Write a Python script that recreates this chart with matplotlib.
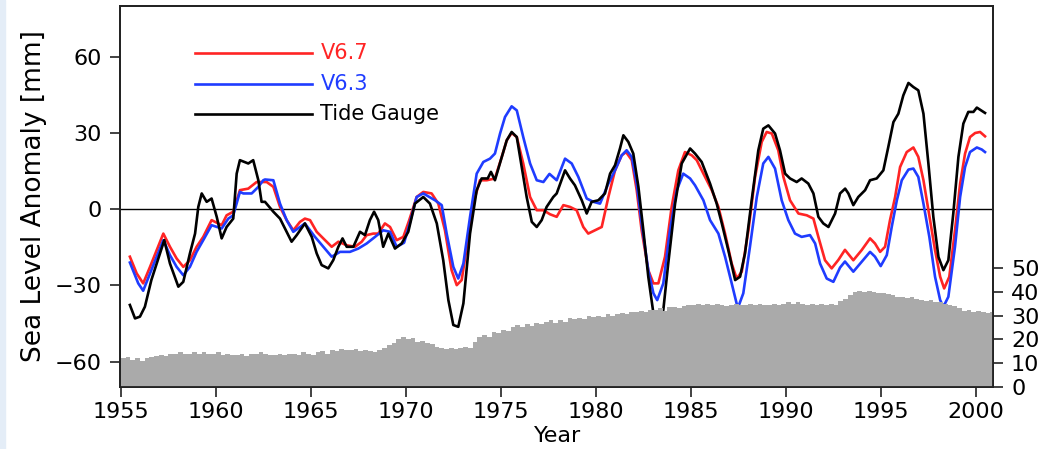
import numpy as np
import matplotlib as mpl
mpl.use('Agg')
import matplotlib.pyplot as plt
from matplotlib.patches import Rectangle

# tide gauge record (year, mm)
tg_year = [1955.47, 1955.74, 1956.0, 1956.26, 1956.6, 1956.88, 1957.28, 1957.58, 1958.02, 1958.28,
           1958.63, 1958.9, 1959.07, 1959.25, 1959.51, 1959.77, 1960.04, 1960.3, 1960.56, 1960.91,
           1961.09, 1961.26, 1961.7, 1961.96, 1962.23, 1962.4, 1962.58, 1963.02, 1963.37, 1963.72,
           1963.98, 1964.25, 1964.68, 1965.04, 1965.3, 1965.56, 1965.91, 1966.17, 1966.44, 1966.66,
           1966.88, 1967.23, 1967.58, 1967.84, 1968.1, 1968.32, 1968.54, 1968.8, 1969.07, 1969.42,
           1969.77, 1970.12, 1970.47, 1970.91, 1971.26, 1971.62, 1971.96, 1972.23, 1972.49, 1972.75,
           1973.02, 1973.37, 1973.72, 1973.98, 1974.3, 1974.47, 1974.68, 1975.04, 1975.3, 1975.56,
           1975.83, 1976.09, 1976.35, 1976.62, 1976.88, 1977.14, 1977.4, 1977.75, 1977.93, 1978.37,
           1978.63, 1978.89, 1979.25, 1979.51, 1979.77, 1980.12, 1980.47, 1980.74, 1981.0, 1981.26,
           1981.44, 1981.7, 1981.96, 1982.23, 1982.49, 1982.75, 1983.02, 1983.15, 1983.4, 1983.54,
           1983.8, 1984.16, 1984.51, 1984.95, 1985.21, 1985.56, 1986.0, 1986.35, 1986.62, 1986.96,
           1987.32, 1987.58, 1987.84, 1988.19, 1988.54, 1988.8, 1989.07, 1989.42, 1989.68, 1989.95,
           1990.21, 1990.56, 1990.82, 1991.17, 1991.44, 1991.7, 1991.96, 1992.23, 1992.58, 1992.84,
           1993.11, 1993.28, 1993.54, 1993.8, 1994.16, 1994.42, 1994.77, 1995.12, 1995.38, 1995.65,
           1995.91, 1996.17, 1996.44, 1996.7, 1996.96, 1997.23, 1997.49, 1997.75, 1998.02, 1998.28,
           1998.54, 1998.8, 1999.07, 1999.33, 1999.59, 1999.86, 2000.04, 2000.3, 2000.47]
tg_mm = [-37.7, -43.0, -42.3, -38.4, -27.9, -21.4, -12.2, -21.4, -30.5, -28.6,
         -17.4, -9.6, 0.9, 6.2, 2.9, 4.2, -3.0, -11.5, -7.0, -3.7,
         14.0, 19.3, 18.0, 19.3, 11.4, 2.9, 2.9, -1.0, -3.7, -8.9,
         -12.8, -10.2, -5.6, -10.9, -17.4, -22.0, -23.3, -20.1, -14.8, -11.5,
         -14.8, -14.8, -8.9, -10.2, -4.3, -1.0, -4.3, -14.8, -9.6, -15.5,
         -13.5, -8.9, 2.2, 4.8, 2.2, -5.6, -20.1, -35.8, -45.6, -46.3,
         -37.1, -9.6, 7.5, 12.1, 12.1, 14.7, 11.4, 20.6, 27.1, 30.4,
         28.4, 16.6, 4.8, -5.0, -7.0, -4.3, 0.9, 4.8, 6.2, 15.3,
         12.1, 9.4, 3.5, -1.7, 2.9, 3.5, 6.2, 14.0, 17.3, 23.9,
         29.1, 26.5, 21.9, 8.8, -8.3, -26.6, -41.0, -44.0, -42.0, -39.7,
         -21.4, 2.2, 18.0, 23.9, 21.9, 18.6, 10.1, 2.2, -5.6, -16.1,
         -27.9, -26.6, -17.4, 3.5, 23.2, 31.7, 33.0, 29.8, 23.2, 14.0,
         12.1, 10.7, 12.1, 10.1, 6.2, -3.0, -5.6, -7.0, -1.7, 6.2,
         8.1, 6.2, 1.6, 4.8, 7.5, 11.4, 12.1, 15.3, 24.5, 34.3,
         37.6, 44.8, 49.7, 48.1, 46.8, 37.6, 18.0, -3.0, -18.8, -24.0,
         -20.1, -1.7, 20.6, 33.7, 38.3, 38.3, 40.0, 38.7, 37.9]

# altimetry reconstruction V6.7
v67_year = [1955.47, 1955.83, 1956.17, 1956.53, 1956.88, 1957.23, 1957.58, 1957.93, 1958.28, 1958.63,
            1958.98, 1959.33, 1959.77, 1960.12, 1960.3, 1960.56, 1960.91, 1961.26, 1961.7, 1962.14,
            1962.67, 1963.02, 1963.37, 1963.72, 1964.07, 1964.42, 1964.68, 1964.95, 1965.3, 1965.74,
            1966.09, 1966.44, 1966.88, 1967.32, 1967.67, 1967.93, 1968.28, 1968.54, 1968.89, 1969.16,
            1969.51, 1969.86, 1970.17, 1970.56, 1970.91, 1971.35, 1971.7, 1972.05, 1972.4, 1972.67,
            1972.93, 1973.28, 1973.54, 1973.89, 1974.25, 1974.68, 1975.04, 1975.3, 1975.56, 1975.83,
            1976.17, 1976.53, 1976.88, 1977.23, 1977.58, 1977.93, 1978.28, 1978.63, 1978.98, 1979.33,
            1979.59, 1979.95, 1980.3, 1980.65, 1981.0, 1981.35, 1981.58, 1981.88, 1982.14, 1982.4,
            1982.75, 1983.02, 1983.28, 1983.63, 1983.98, 1984.33, 1984.68, 1985.04, 1985.3, 1985.65,
            1986.09, 1986.44, 1986.79, 1987.14, 1987.4, 1987.67, 1988.02, 1988.37, 1988.72, 1988.98,
            1989.25, 1989.59, 1989.86, 1990.21, 1990.65, 1991.09, 1991.44, 1991.7, 1992.05, 1992.4,
            1992.75, 1993.1, 1993.54, 1993.98, 1994.42, 1994.68, 1994.95, 1995.21, 1995.47, 1995.74,
            1996.0, 1996.35, 1996.7, 1996.96, 1997.23, 1997.49, 1997.84, 1998.11, 1998.32, 1998.59,
            1998.89, 1999.16, 1999.42, 1999.68, 1999.95, 2000.21, 2000.47]
v67_mm = [-18.7, -25.3, -29.2, -22.7, -16.1, -9.6, -14.8, -19.4, -22.7, -20.1,
          -14.8, -10.9, -4.3, -5.6, -6.3, -2.4, -1.0, 7.5, 8.1, 10.7,
          10.7, 8.8, 0.9, -4.3, -8.3, -5.0, -3.7, -4.3, -8.9, -12.2,
          -14.8, -12.8, -14.2, -14.8, -12.8, -10.2, -9.6, -9.6, -5.6, -7.0,
          -12.2, -10.9, -4.3, 4.8, 6.8, 6.2, 2.2, -8.3, -24.0, -29.9,
          -27.9, -10.9, 2.2, 11.4, 11.4, 12.1, 20.6, 27.1, 30.0, 28.4,
          18.0, 4.8, -0.4, -0.4, -2.0, -3.0, 1.6, 0.9, -0.4, -7.0,
          -9.6, -8.3, -7.0, 4.8, 15.3, 21.2, 22.5, 19.3, 7.5, -8.3,
          -24.0, -29.2, -29.2, -18.7, 0.9, 15.3, 22.5, 21.2, 19.3, 14.0,
          7.5, 0.9, -9.6, -21.4, -27.3, -24.6, -8.3, 12.7, 26.5, 30.4,
          29.8, 23.2, 12.7, 3.5, -1.7, -2.4, -3.7, -10.9, -20.1, -23.3,
          -20.0, -16.0, -20.1, -16.1, -11.5, -13.5, -16.8, -14.8, -4.3, 4.8,
          16.6, 22.5, 24.3, 20.6, 11.4, -0.4, -16.1, -26.6, -31.2, -26.6,
          -8.3, 10.1, 21.9, 28.4, 30.0, 30.4, 28.7]

# altimetry reconstruction V6.3
v63_year = [1955.47, 1955.91, 1956.17, 1956.53, 1956.88, 1957.23, 1957.58, 1957.93, 1958.28, 1958.63,
            1958.98, 1959.33, 1959.77, 1960.3, 1960.65, 1960.91, 1961.26, 1961.44, 1961.88, 1962.23,
            1962.49, 1962.58, 1963.02, 1963.37, 1963.72, 1964.07, 1964.68, 1965.21, 1965.65, 1966.09,
            1966.53, 1967.05, 1967.49, 1967.93, 1968.37, 1968.8, 1969.16, 1969.51, 1969.9, 1970.17,
            1970.56, 1970.91, 1971.53, 1971.88, 1972.14, 1972.49, 1972.75, 1973.02, 1973.37, 1973.72,
            1974.07, 1974.42, 1974.68, 1974.95, 1975.21, 1975.56, 1975.83, 1976.17, 1976.53, 1976.88,
            1977.23, 1977.55, 1977.93, 1978.37, 1978.72, 1979.07, 1979.51, 1979.86, 1980.21, 1980.65,
            1981.0, 1981.35, 1981.61, 1981.88, 1982.14, 1982.4, 1982.75, 1983.02, 1983.22, 1983.54,
            1983.89, 1984.25, 1984.59, 1984.95, 1985.21, 1985.65, 1986.0, 1986.44, 1986.79, 1987.14,
            1987.46, 1987.75, 1988.1, 1988.46, 1988.8, 1989.07, 1989.42, 1989.77, 1990.12, 1990.47,
            1990.82, 1991.26, 1991.53, 1991.79, 1992.14, 1992.49, 1992.84, 1993.1, 1993.54, 1993.98,
            1994.42, 1994.68, 1994.98, 1995.3, 1995.56, 1995.83, 1996.09, 1996.44, 1996.7, 1996.96,
            1997.23, 1997.54, 1997.84, 1998.11, 1998.28, 1998.54, 1998.89, 1999.16, 1999.42, 1999.68,
            2000.04, 2000.3, 2000.47]
v63_mm = [-21.0, -29.2, -32.1, -25.3, -18.7, -12.2, -18.1, -22.7, -26.0, -22.7,
          -16.8, -12.2, -6.3, -7.6, -3.7, -2.4, 6.8, 6.2, 6.2, 8.8,
          11.4, 11.7, 11.4, 2.2, -4.3, -8.9, -5.6, -10.9, -14.8, -18.7,
          -16.8, -16.8, -15.5, -13.5, -10.9, -8.3, -8.9, -14.8, -13.2, -6.3,
          4.8, 6.2, 3.5, 1.6, -9.6, -22.7, -27.3, -21.4, -3.0, 14.0,
          18.6, 19.9, 21.9, 29.8, 36.3, 40.5, 38.9, 28.4, 18.0, 11.4,
          10.7, 13.9, 11.4, 19.9, 18.0, 12.7, 4.2, 2.9, 2.2, 10.1,
          15.3, 21.2, 23.2, 20.6, 10.1, -5.6, -24.0, -33.1, -35.8, -29.2,
          -8.3, 7.5, 14.0, 12.1, 9.4, 3.5, -4.3, -9.6, -18.7, -29.2,
          -39.0, -33.1, -14.8, 4.8, 18.0, 20.6, 16.0, 3.5, -4.3, -9.6,
          -10.9, -10.2, -13.5, -21.4, -27.3, -28.6, -23.0, -20.6, -24.6, -20.7,
          -16.8, -18.7, -22.4, -18.1, -7.0, 3.5, 11.4, 15.6, 16.0, 12.7,
          2.2, -10.9, -26.6, -35.8, -38.4, -34.5, -14.8, 4.8, 16.6, 22.5,
          24.3, 23.5, 22.5]

# number of gauges in use, quarterly from 1955
gauge_count = [12, 12.5, 11.5, 12, 11, 12, 12.5, 13, 13.5, 13, 14, 14,
               14.5, 14, 14, 14.5, 14, 14.5, 14, 14, 14.5, 13.5, 14, 13.5,
               13.5, 14, 13, 14, 14, 14.5, 14, 13.5, 13.5, 14, 13.5, 14,
               14, 13.5, 14.5, 14, 13.5, 14.5, 15, 14, 15.5, 15, 16, 15.5,
               15.5, 16, 15, 15.5, 15, 14.5, 15.5, 16.5, 17.5, 18.5, 20, 21,
               20, 20.5, 19, 19.5, 18.5, 18, 17, 16.5, 16, 16.5, 16, 16.5,
               17, 16.5, 19, 21, 22, 21, 23, 22.5, 24, 23.5, 25, 26,
               25, 26.5, 25.5, 27, 26.5, 27.5, 28, 27, 28, 27.5, 29, 28.5,
               29, 28.5, 30, 29.5, 30, 29.5, 30.5, 30, 30.5, 31, 30.5, 31.5,
               31.5, 32, 31.5, 32.5, 32.5, 33, 32, 33.5, 33.5, 33, 34, 34.5,
               34.5, 35, 34.5, 35, 34.5, 35, 34.5, 34, 34.5, 35, 34.5, 34.5,
               35, 34.5, 35, 34.5, 34.5, 35, 34.5, 35, 35.5, 35, 35.5, 35,
               34.5, 35, 34.5, 35, 34.5, 35, 34.5, 36, 37, 38.5, 40, 40.5,
               40, 40.5, 40, 39.5, 39.5, 39, 38.5, 38, 38, 37.5, 38, 37,
               36.5, 36, 36.5, 35.5, 35.5, 35, 34.5, 34, 33, 32, 32.5, 31.5,
               32, 31.5, 31, 31.5]
count_edges = 1955 + 0.25 * np.arange(len(gauge_count) + 1)

plt.rcParams['font.family'] = 'DejaVu Sans'

fig = plt.figure(figsize=(10.5, 4.49), dpi=100)
ax = fig.add_axes([120 / 1050, 62 / 449, 873 / 1050, 381 / 449])

ax.axhline(0, color='black', lw=1.0)
ax.plot(v67_year, v67_mm, color='#ff2424', lw=1.9)
ax.plot(v63_year, v63_mm, color='#1f3cff', lw=1.9)
ax.plot(tg_year, tg_mm, color='black', lw=1.9)

ax.set_xlim(1954.95, 2000.89)
ax.set_ylim(-70, 80)
ax.set_xticks(range(1955, 2001, 5))
ax.set_yticks([-60, -30, 0, 30, 60])
ax.tick_params(axis='both', direction='out', length=7, width=1.2, labelsize=16, color='#222222')
ax.tick_params(axis='x', pad=4)
ax.tick_params(axis='y', pad=6)
for s in ax.spines.values():
    s.set_color('#222222')
    s.set_linewidth(1.3)

# gauge count on the right axis, drawn over the curves
ax2 = ax.twinx()
ax2.stairs(gauge_count, count_edges, fill=True, color='#aaaaaa', lw=0)
ax2.set_ylim(0, 160)
ax2.set_yticks(range(0, 51, 10))
ax2.tick_params(axis='y', direction='out', length=7, width=1.2, labelsize=16, pad=6, color='#222222')
for s in ax2.spines.values():
    s.set_color('#222222')
    s.set_linewidth(1.3)

# legend
labels = ['V6.7', 'V6.3', 'Tide Gauge']
colors = ['#ff2424', '#1f3cff', 'black']
rows = [0.8758, 0.7953, 0.7165]
for lab, c, yy in zip(labels, colors, rows):
    ax.plot([0.0859, 0.2199], [yy, yy], color=c, lw=1.9, transform=ax.transAxes)
    ax.text(0.2295, yy, lab, color=c, fontsize=15, va='center', ha='left', transform=ax.transAxes)

fig.text(34 / 1050, 1 - 196 / 449, 'Sea Level Anomaly [mm]', rotation=90,
         ha='center', va='center', fontsize=19)
fig.text(558 / 1050, 1 - 426 / 449, 'Year', ha='center', va='top', fontsize=16)

fig.patches.append(Rectangle((0, 0), 5 / 1050, 1, transform=fig.transFigure,
                             color='#e4edf7', zorder=0))

fig.savefig('out.png', dpi=100)
